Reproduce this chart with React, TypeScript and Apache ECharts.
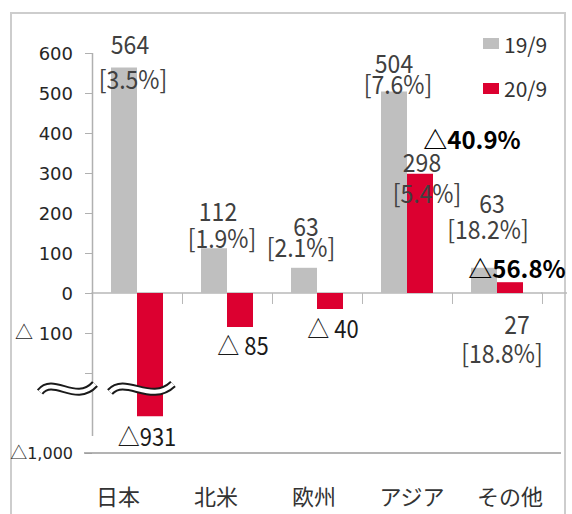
import React, { useEffect, useRef } from 'react';
import * as echarts from 'echarts';

// ---- data ----
const categories = ['日本', '北米', '欧州', 'アジア', 'その他'];
const seriesNames = ['19/9', '20/9'];
const sales199 = [564, 112, 63, 504, 63];
const sales209 = [-931, -85, -40, 298, 27];
const share199 = ['3.5%', '1.9%', '2.1%', '7.6%', '18.2%'];
const share209 = ['', '', '', '5.4%', '18.8%'];
const growth209 = ['', '', '', '△40.9%', '△56.8%'];
const yLabelValues = [600, 500, 400, 300, 200, 100, 0, -100, -1000];
const yTickValues = [600, 500, 400, 300, 200, 100, 0, -100, -200, -300];

// ---- broken axis mapping (real value -> drawn value) ----
const BREAK_AT = -200;
const LOWER_REAL_MIN = -1000;
const LOWER_DISPLAY_MIN = -400;
const LOWER_SCALE = 4 / 3;
const toDisplay = (v: number) =>
  v >= BREAK_AT ? v : LOWER_DISPLAY_MIN + (v - LOWER_REAL_MIN) * LOWER_SCALE;
const tickDisplay = (v: number) => (v >= BREAK_AT ? v : LOWER_DISPLAY_MIN);

// ---- label layout (offsets from category centre / bar end) ----
const grayValNudge = [[-7, -24], [-9, -38], [-11, -43], [-13, -29], [-5, -66]];
const grayPctNudge = [[-4, 11], [-5, -11], [-16, -22], [-9, -8], [-9, -40]];
const redValNudge = [[10, 19], [16, 18], [16, 19], [15, -13], [20, 41]];
const redPctNudge = [[0, 0], [0, 0], [0, 0], [20, 18], [5, 70]];
const growthNudge = [[0, 0], [0, 0], [0, 0], [65, -35], [20, -15]];

const GRAY = '#BFBFBF';
const RED = '#DC0030';
const JP = "'Noto Sans CJK JP', 'Noto Sans', sans-serif";

const fmtNeg = (v: number, w: number) =>
  v < 0 ? '△' + Math.abs(v).toLocaleString('en-US').padStart(w, ' ') : String(v);

type Lbl = { cat: number; val: number; text: string; kind: string; dx: number; dy: number };
const labelItems: Lbl[] = [];
categories.forEach((_, i) => {
  const g = sales199[i];
  labelItems.push({ cat: i, val: toDisplay(g), text: String(g), kind: 'val', dx: grayValNudge[i][0], dy: grayValNudge[i][1] });
  labelItems.push({ cat: i, val: toDisplay(g), text: `[${share199[i]}]`, kind: 'val', dx: grayPctNudge[i][0], dy: grayPctNudge[i][1] });
  const r = sales209[i];
  labelItems.push({ cat: i, val: toDisplay(r), text: fmtNeg(r, 3), kind: r < 0 ? 'neg' : 'val', dx: redValNudge[i][0], dy: redValNudge[i][1] });
  if (share209[i]) {
    labelItems.push({ cat: i, val: toDisplay(r), text: `[${share209[i]}]`, kind: 'val', dx: redPctNudge[i][0], dy: redPctNudge[i][1] });
  }
  if (growth209[i]) {
    labelItems.push({ cat: i, val: toDisplay(r), text: growth209[i], kind: 'growth', dx: growthNudge[i][0], dy: growthNudge[i][1] });
  }
});

const textStyles: Record<string, any> = {
  val: { fontSize: 23, fill: '#404040', fontWeight: 'normal' },
  neg: { fontSize: 22, fill: '#1a1a1a', fontWeight: 'normal' },
  growth: { fontSize: 24, fill: '#000000', fontWeight: 'bold' },
};

export default function App() {
  const ref = useRef<HTMLDivElement>(null);
  useEffect(() => {
    if (!ref.current) return;
    const chart = echarts.init(ref.current, null, { renderer: 'svg' });
    chart.setOption({
      animation: false,
      backgroundColor: '#ffffff',
      legend: {
        data: seriesNames,
        orient: 'vertical',
        left: 478,
        top: 28,
        itemWidth: 16,
        itemHeight: 11,
        itemGap: 24,
        icon: 'rect',
        textStyle: { fontSize: 21, fontFamily: JP, color: '#333' },
      },
      grid: [
        { left: 92, right: 30, top: 53, bottom: 61, outerBoundsMode: 'none' },
        { left: 69, right: 13, top: 470, height: 10, outerBoundsMode: 'none' },
      ],
      xAxis: [
        {
          type: 'category',
          gridIndex: 0,
          data: categories,
          axisLine: { onZero: true, lineStyle: { color: '#B8B8B8', width: 1.5 } },
          axisTick: { show: true, length: 11, lineStyle: { color: '#B8B8B8' } },
          axisLabel: { show: false },
        },
        {
          type: 'category',
          gridIndex: 1,
          data: categories,
          position: 'bottom',
          axisLine: { show: false, onZero: false },
          axisTick: { show: false },
          axisLabel: { margin: 4, fontSize: 22, fontFamily: JP, color: '#333' },
        },
      ],
      yAxis: [
        {
          type: 'value',
          gridIndex: 0,
          min: LOWER_DISPLAY_MIN,
          max: 600,
          interval: 100,
          splitLine: { show: false },
          axisLine: { show: false },
          axisTick: {
            show: true,
            length: 7,
            lineStyle: { color: '#B0B0B0' },
            customValues: yTickValues.map(tickDisplay),
          },
          axisLabel: {
            margin: 19,
            fontSize: 18,
            fontFamily: 'DejaVu Sans',
            color: '#262626',
            customValues: yLabelValues.map(tickDisplay),
            formatter: (v: number) => {
              const real = yLabelValues.find((r) => tickDisplay(r) === v);
              if (real === undefined) return '';
              if (real >= 0) return String(real);
              const num = Math.abs(real).toLocaleString('en-US');
              if (real < BREAK_AT) return `{ts|△}{s|${num}}`;
              return `{t|△}{n| ${num}}`;
            },
            rich: {
              t: { fontFamily: JP, fontSize: 18, lineHeight: 20, verticalAlign: 'middle', color: '#262626', padding: [0, 0, 4, 0] },
              n: { fontFamily: 'DejaVu Sans', fontSize: 18, lineHeight: 20, verticalAlign: 'middle', color: '#262626' },
              ts: { fontFamily: JP, fontSize: 17, lineHeight: 20, verticalAlign: 'middle', color: '#262626', padding: [0, 0, 4, 0] },
              s: { fontFamily: 'DejaVu Sans', fontSize: 16, lineHeight: 20, verticalAlign: 'middle', color: '#262626' },
            },
          },
        },
        { type: 'value', gridIndex: 1, show: false },
      ],
      series: [
        {
          name: seriesNames[0],
          type: 'bar',
          xAxisIndex: 0,
          yAxisIndex: 0,
          data: sales199.map(toDisplay),
          barWidth: 26,
          barGap: '0%',
          itemStyle: { color: GRAY },
        },
        {
          name: seriesNames[1],
          type: 'bar',
          xAxisIndex: 0,
          yAxisIndex: 0,
          data: sales209.map(toDisplay),
          barWidth: 26,
          barGap: '0%',
          itemStyle: { color: RED },
        },
        {
          name: 'labels',
          type: 'custom',
          xAxisIndex: 0,
          yAxisIndex: 0,
          clip: false,
          z: 10,
          data: labelItems.map((l) => [l.cat, l.val]),
          renderItem: (params: any, api: any) => {
            const item = labelItems[params.dataIndex];
            const p = api.coord([api.value(0), api.value(1)]);
            const st = textStyles[item.kind];
            return {
              type: 'text',
              x: p[0] + item.dx,
              y: p[1] + item.dy,
              scaleY: item.kind === 'growth' ? 1 : 1.1,
              style: {
                text: item.text,
                fontSize: st.fontSize,
                fontWeight: st.fontWeight,
                fontFamily: JP,
                fill: st.fill,
                align: 'center',
                verticalAlign: 'middle',
              },
            };
          },
        },
      ],
      graphic: [
        {
          type: 'rect',
          z: -10,
          shape: { x: 11, y: 13, width: 554, height: 560 },
          style: { fill: 'none', stroke: '#CDCDCD', lineWidth: 2 },
        },
        {
          type: 'line',
          z: 1,
          shape: { x1: 92.5, y1: 53, x2: 92.5, y2: 436 },
          style: { stroke: '#B0B0B0', lineWidth: 1.5 },
        },
        {
          type: 'line',
          z: 1,
          shape: { x1: 541, y1: 293, x2: 567, y2: 293 },
          style: { stroke: '#B8B8B8', lineWidth: 1.5 },
        },
        {
          type: 'line',
          z: 1,
          shape: { x1: 84, y1: 453, x2: 561, y2: 453 },
          style: { stroke: '#9A9A9A', lineWidth: 1.5 },
        },
        ...[
          [40, 95],
          [110, 173],
        ].flatMap(([a, b]) => {
          const w = b - a;
          const shape = {
            x1: a, y1: 392,
            cpx1: a + w * 0.25, cpy1: 375,
            cpx2: a + w * 0.65, cpy2: 405,
            x2: b, y2: 384,
          };
          return [
            { type: 'bezierCurve', z: 50, shape, style: { stroke: '#1a1a1a', lineWidth: 8, fill: 'none', lineCap: 'butt' } },
            { type: 'bezierCurve', z: 51, shape, style: { stroke: '#ffffff', lineWidth: 4, fill: 'none', lineCap: 'butt' } },
          ];
        }),
      ],
    });
    return () => chart.dispose();
  }, []);
  return (
    <div
      ref={ref}
      style={{ position: 'fixed', left: 0, top: 0, width: 572, height: 514, background: '#fff' }}
    />
  );
}
